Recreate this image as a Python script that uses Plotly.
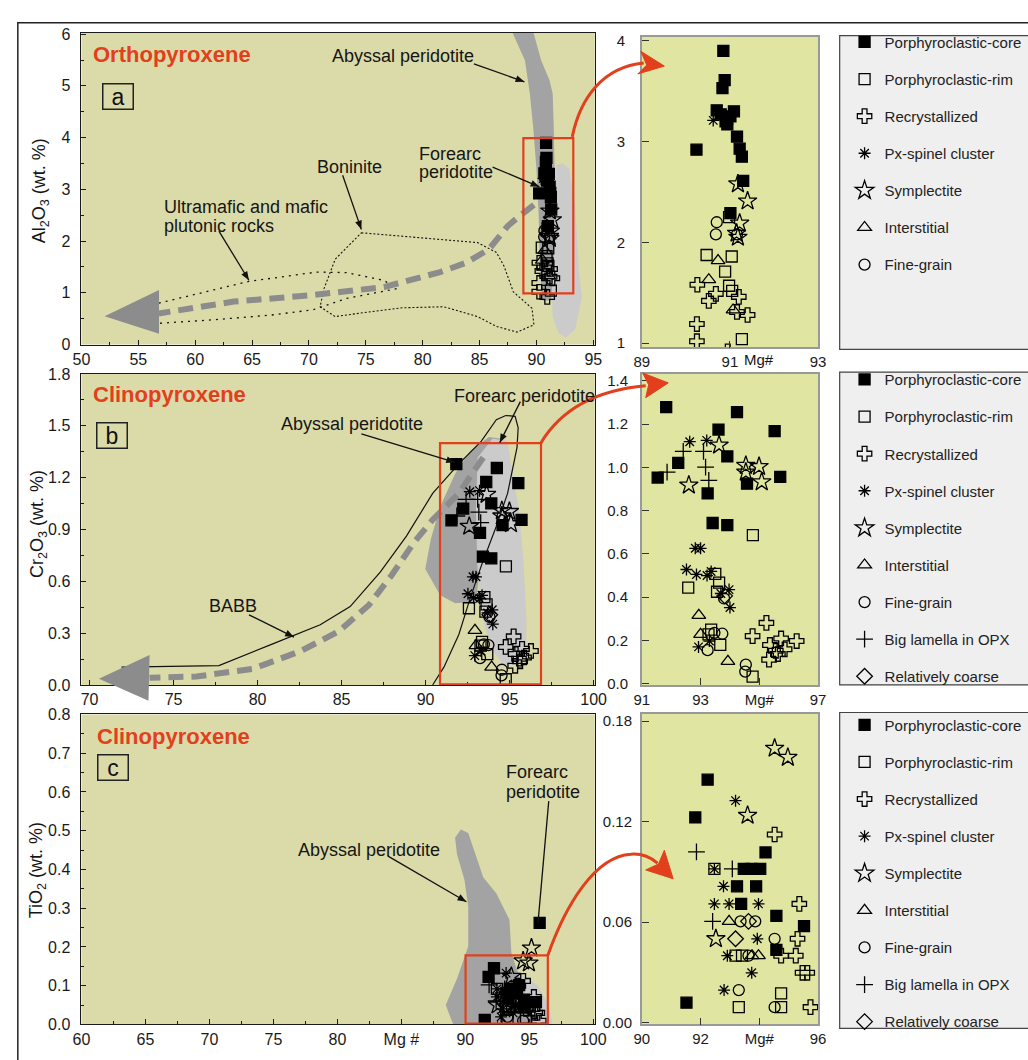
import math
import plotly.graph_objects as go

W, H = 1028, 1060
FONT = "Liberation Sans, Arial, Helvetica, sans-serif"
RED = "#e2401c"
DARK = "#a3a3a3"
LIGHT = "#cbcbcb"
MAIN_BG = "#dbdba9"
MID_BG = "#e0e5a1"
TREND = "#8c8c8c"

# ---------------- data: panel a, orthopyroxene (Mg# vs Al2O3 wt.%) ----------------
opx_core_mg = [90.85, 90.88, 90.83, 90.70, 91.09, 90.79, 91.01, 90.90, 90.94, 90.24, 91.16, 91.22, 91.27, 91.30, 91.01]
opx_core_al = [3.90, 3.61, 3.53, 3.31, 3.30, 3.27, 3.25, 3.20, 3.17, 2.92, 3.05, 2.93, 2.85, 2.61, 2.29]
opx_rim_mg = [90.47, 91.04, 90.89, 90.98, 91.05, 91.27, 90.98]
opx_rim_al = [1.875, 1.86, 1.71, 1.57, 1.52, 1.04, 2.25]
opx_recr_mg = [90.26, 90.68, 90.52, 91.20, 91.16, 91.40, 90.25, 90.25, 90.95]
opx_recr_al = [1.58, 1.49, 1.42, 1.46, 1.31, 1.28, 1.19, 1.02, 0.92]
opx_pxsp_mg = [90.62, 90.98]
opx_pxsp_al = [3.21, 3.21]
opx_symp_mg = [91.18, 91.40, 91.22, 91.15, 91.18]
opx_symp_al = [2.58, 2.41, 2.19, 2.09, 2.05]
opx_inter_mg = [90.73, 90.52, 91.07]
opx_inter_al = [1.82, 1.63, 1.33]
opx_fine_mg = [90.70, 90.68, 91.16]
opx_fine_al = [2.20, 2.08, 2.08]

# ---------------- data: panel b, clinopyroxene (Mg# vs Cr2O3 wt.%) ----------------
cr_core_mg = [91.83, 94.24, 93.61, 95.52, 93.91, 92.24, 91.54, 94.58, 95.71, 93.24, 93.41, 93.91]
cr_core_v = [1.279, 1.256, 1.175, 1.168, 1.051, 1.021, 0.953, 0.925, 0.956, 0.880, 0.743, 0.733]
cr_rim_mg = [94.78, 92.58, 93.50, 93.63, 93.56, 93.36, 93.67, 94.77, 93.27]
cr_rim_v = [0.687, 0.444, 0.508, 0.467, 0.425, 0.250, 0.179, 0.033, 0.228]
cr_recr_mg = [95.24, 94.77, 95.36, 95.74, 96.27, 95.56, 95.86, 95.33, 95.63]
cr_recr_v = [0.281, 0.220, 0.179, 0.209, 0.197, 0.152, 0.159, 0.111, 0.137]
cr_pxsp_mg = [92.63, 93.21, 92.82, 93.00, 92.52, 92.86, 93.22, 93.36, 93.69, 93.97, 94.00, 92.93, 93.30]
cr_pxsp_v = [1.119, 1.125, 0.626, 0.626, 0.528, 0.505, 0.500, 0.519, 0.417, 0.435, 0.352, 0.170, 0.197]
cr_symp_mg = [93.63, 92.60, 94.54, 94.99, 95.08, 94.54]
cr_symp_v = [1.103, 0.918, 1.009, 1.004, 0.933, 0.978]
cr_inter_mg = [92.94, 93.00, 93.93]
cr_inter_v = [0.316, 0.228, 0.103]
cr_fine_mg = [93.80, 93.24, 93.74, 94.54, 94.52, 93.47]
cr_fine_v = [0.394, 0.155, 0.231, 0.088, 0.056, 0.235]
cr_lam_mg = [91.86, 92.41, 93.10, 93.17, 93.28]
cr_lam_v = [0.978, 1.074, 1.074, 1.001, 0.940]
cr_coarse_mg = [93.82]
cr_coarse_v = [0.406]

# ---------------- data: panel c, clinopyroxene (Mg# vs TiO2 wt.%) ----------------
ti_core_mg = [92.24, 91.82, 94.21, 93.47, 93.73, 94.03, 93.24, 93.89, 93.38, 94.58, 95.52, 94.58, 91.52, 95.81]
ti_core_v = [0.145, 0.1225, 0.1016, 0.0918, 0.0918, 0.0918, 0.0814, 0.0814, 0.0709, 0.0638, 0.0576, 0.0435, 0.012, 0.262]
ti_rim_mg = [92.47, 93.19, 93.41, 94.74, 93.30, 94.74]
ti_rim_v = [0.0918, 0.040, 0.040, 0.0175, 0.0093, 0.0093]
ti_recr_mg = [94.52, 95.36, 95.30, 94.74, 95.24, 95.47, 95.63, 95.74]
ti_recr_v = [0.1123, 0.0709, 0.0501, 0.040, 0.040, 0.0298, 0.0298, 0.0093]
ti_pxsp_mg = [93.19, 92.47, 92.78, 92.47, 92.97, 93.97, 93.93, 92.91, 93.74, 92.80]
ti_pxsp_v = [0.1325, 0.0918, 0.0814, 0.0709, 0.0709, 0.0709, 0.0501, 0.040, 0.0298, 0.0195]
ti_symp_mg = [94.52, 94.97, 93.60, 92.52, 95.17]
ti_symp_v = [0.1637, 0.1583, 0.1237, 0.0501, 0.197]
ti_inter_mg = [92.97, 93.97, 93.75]
ti_inter_v = [0.0605, 0.040, 0.040]
ti_fine_mg = [93.36, 93.86, 94.52, 93.63, 93.30, 94.52]
ti_fine_v = [0.0605, 0.0605, 0.0501, 0.040, 0.0195, 0.0093]
ti_lam_mg = [91.86, 93.08, 92.41]
ti_lam_v = [0.102, 0.0918, 0.0605]
ti_coarse_mg = [93.63, 93.19]
ti_coarse_v = [0.0605, 0.0501]

# ---------------- axis tick labels ----------------
a_main_ticks = [50, 55, 60, 65, 70, 75, 80, 85, 90, 95]
a_main_labels = ["50", "55", "60", "65", "70", "75", "80", "85", "90", "95"]
a_mid_ticks = [89, 91, 93]
a_mid_labels = ["89", "91", "93"]
b_main_ticks = [70, 75, 80, 85, 90, 95, 100]
b_main_labels = ["70", "75", "80", "85", "90", "95", "100"]
b_mid_ticks = [91, 93, 95, 97]
b_mid_labels = ["91", "93", "Mg#", "97"]
c_main_ticks = [60, 65, 70, 75, 80, 85, 90, 95, 100]
c_main_labels = ["60", "65", "70", "75", "80", "Mg #", "90", "95", "100"]
c_mid_ticks = [90, 92, 94, 96]
c_mid_labels = ["90", "92", "Mg#", "96"]

# ---------------- reference fields / trends (outlines) ----------------
opx_abyssal_mg = [87.75, 89.65, 90.42, 91.15, 91.43, 91.52, 91.58, 91.6, 91.5, 91.3, 90.5, 90.3, 90.2, 90.0, 89.71, 89.42, 88.99]
opx_abyssal_al = [6.1, 6.1, 5.49, 5.11, 4.85, 4.21, 3.59, 2.5, 1.5, 0.85, 0.85, 1.5, 2.5, 3.4, 4.21, 4.85, 5.49]
opx_forearc_mg = [91.75, 92.3, 92.89, 93.41, 93.73, 94.0, 93.41, 92.58, 91.92, 91.42, 91.3, 91.5]
opx_forearc_al = [3.46, 3.5, 3.40, 2.70, 1.43, 0.92, 0.29, 0.13, 0.23, 0.54, 1.5, 2.8]
bon_mg = [74.61, 84.83, 86.48, 87.14, 87.96, 89.61, 89.78, 88.29, 86.48, 84.83, 81.86, 78.24, 75.27, 72.31, 70.98, 71.32, 72.31]
bon_al = [2.16, 1.97, 1.78, 1.52, 1.02, 0.70, 0.38, 0.24, 0.35, 0.54, 0.73, 0.71, 0.63, 0.54, 0.73, 1.08, 1.65]
umr_mg = [56.8, 64.71, 70.65, 73.29, 76.59, 77.74, 73.29, 70.33, 66.70, 61.76, 56.8]
umr_al = [0.80, 1.22, 1.40, 1.39, 1.24, 1.08, 0.89, 0.67, 0.57, 0.48, 0.41]
trend_a_mg = [89.78, 88.6, 87.47, 85.82, 83.8, 81.53, 76.59, 70.0, 63.4, 56.8]
trend_a_al = [2.70, 2.50, 2.29, 1.84, 1.58, 1.40, 1.11, 0.95, 0.83, 0.60]

cr_abyssal_mg = [89.98, 90.31, 90.87, 91.76, 92.65, 93.77, 94.44, 94.21, 93.32, 92.99, 91.76, 90.87]
cr_abyssal_v = [0.672, 0.843, 1.033, 1.222, 1.355, 1.435, 1.427, 1.109, 0.729, 0.482, 0.473, 0.520]
cr_forearc_mg = [93.1, 93.99, 94.88, 95.11, 95.56, 95.82, 96.0, 96.0, 95.56, 94.66, 93.99, 93.43, 93.1, 92.99]
cr_forearc_v = [1.317, 1.427, 1.412, 1.260, 1.014, 0.729, 0.387, 0.198, 0.121, 0.112, 0.198, 0.368, 0.634, 1.014]
babb_mg = [71.9, 77.70, 80.83, 83.73, 85.51, 87.30, 88.86, 90.42, 91.98, 93.32, 94.21, 94.77, 95.33, 95.51, 95.44, 94.88, 94.21, 93.32, 92.65, 91.98, 91.09, 90.42]
babb_v = [0.103, 0.112, 0.235, 0.349, 0.454, 0.653, 0.862, 1.109, 1.280, 1.412, 1.536, 1.560, 1.555, 1.488, 1.374, 1.109, 0.919, 0.691, 0.501, 0.292, 0.103, 0.0]
trend_b_mg = [93.43, 91.98, 90.42, 89.30, 87.97, 86.63, 84.84, 82.61, 79.71, 76.36, 73.57]
trend_b_v = [1.317, 1.109, 0.957, 0.824, 0.634, 0.463, 0.311, 0.198, 0.093, 0.049, 0.042]

ti_abyssal_mg = [89.65, 90.23, 91.40, 92.43, 93.45, 93.60, 94.19, 94.77, 95.36, 89.20, 88.91, 88.47, 89.35, 90.23, 90.23, 89.94, 89.35, 89.20]
ti_abyssal_v = [0.503, 0.494, 0.380, 0.338, 0.270, 0.185, 0.126, 0.067, -0.01, -0.01, 0.012, 0.05, 0.118, 0.202, 0.304, 0.372, 0.439, 0.482]
ti_forearc_mg = [92.43, 94.19, 95.65, 96.53, 96.88, 93.02]
ti_forearc_v = [0.143, 0.135, 0.101, 0.050, -0.01, -0.01]

# ---------------- styles ----------------
STYLE = {
    "core": ("Porphyroclastic-core", "square", 11),
    "rim": ("Porphyroclastic-rim", "square-open", 11),
    "recr": ("Recrystallized", "cross-open", 12),
    "pxsp": ("Px-spinel cluster", "asterisk-open", 10),
    "symp": ("Symplectite", "star-open", 14),
    "inter": ("Interstitial", "triangle-up-open", 12),
    "fine": ("Fine-grain", "circle-open", 11),
    "lam": ("Big lamella in OPX", "cross-thin-open", 12),
    "coarse": ("Relatively coarse", "diamond-open", 12),
}

PANELS = [
    dict(key="a", main=("x", "y"), mid=("x2", "y2"), legend="legend", data=[
        ("core", opx_core_mg, opx_core_al), ("rim", opx_rim_mg, opx_rim_al),
        ("recr", opx_recr_mg, opx_recr_al), ("pxsp", opx_pxsp_mg, opx_pxsp_al),
        ("symp", opx_symp_mg, opx_symp_al), ("inter", opx_inter_mg, opx_inter_al),
        ("fine", opx_fine_mg, opx_fine_al)]),
    dict(key="b", main=("x3", "y3"), mid=("x4", "y4"), legend="legend2", data=[
        ("core", cr_core_mg, cr_core_v), ("rim", cr_rim_mg, cr_rim_v),
        ("recr", cr_recr_mg, cr_recr_v), ("pxsp", cr_pxsp_mg, cr_pxsp_v),
        ("symp", cr_symp_mg, cr_symp_v), ("inter", cr_inter_mg, cr_inter_v),
        ("fine", cr_fine_mg, cr_fine_v), ("lam", cr_lam_mg, cr_lam_v),
        ("coarse", cr_coarse_mg, cr_coarse_v)]),
    dict(key="c", main=("x5", "y5"), mid=("x6", "y6"), legend="legend3", data=[
        ("core", ti_core_mg, ti_core_v), ("rim", ti_rim_mg, ti_rim_v),
        ("recr", ti_recr_mg, ti_recr_v), ("pxsp", ti_pxsp_mg, ti_pxsp_v),
        ("symp", ti_symp_mg, ti_symp_v), ("inter", ti_inter_mg, ti_inter_v),
        ("fine", ti_fine_mg, ti_fine_v), ("lam", ti_lam_mg, ti_lam_v),
        ("coarse", ti_coarse_mg, ti_coarse_v)]),
]


def PX(x):
    return x / W


def PY(y):
    return 1 - y / H


fig = go.Figure()
for p in PANELS:
    for cat, xs, ys in p["data"]:
        name, sym, size = STYLE[cat]
        mk = dict(symbol=sym, size=size, color="black", line=dict(color="black", width=1.3))
        fig.add_trace(go.Scatter(x=xs, y=ys, mode="markers", xaxis=p["main"][0], yaxis=p["main"][1],
                                 marker=mk, showlegend=False, legendgroup=p["key"] + cat,
                                 name=name, hoverinfo="skip", cliponaxis=True))
        fig.add_trace(go.Scatter(x=xs, y=ys, mode="markers", xaxis=p["mid"][0], yaxis=p["mid"][1],
                                 marker=mk, showlegend=True, legend=p["legend"],
                                 legendgroup=p["key"] + cat, name=name, hoverinfo="skip", cliponaxis=True))


# ---------------- shapes ----------------
def dpath(xs, ys, close=True):
    s = "M " + " L ".join(f"{x},{y}" for x, y in zip(xs, ys))
    return s + (" Z" if close else "")


def ppath(pts, close=True):
    s = "M " + " L ".join(f"{PX(x):.5f},{PY(y):.5f}" for x, y in pts)
    return s + (" Z" if close else "")


def pcurve(pts):
    f = lambda q: f"{PX(q[0]):.5f},{PY(q[1]):.5f}"
    s = f"M {f(pts[0])}"
    for i in range(1, len(pts), 3):
        s += f" C {f(pts[i])} {f(pts[i+1])} {f(pts[i+2])}"
    return s


shapes = []

# zoom-panel backgrounds
for xr, yr in (("x2", "y2"), ("x4", "y4"), ("x6", "y6")):
    shapes.append(dict(type="rect", xref=f"{xr} domain", yref=f"{yr} domain", x0=0, x1=1, y0=0, y1=1,
                       fillcolor=MID_BG, line=dict(width=0), layer="below"))


def field(xr, yr, xs, ys, color):
    shapes.append(dict(type="path", xref=xr, yref=yr, path=dpath(xs, ys), fillcolor=color,
                       line=dict(width=0), layer="below"))


# panel a
field("x", "y", opx_forearc_mg, opx_forearc_al, LIGHT)
field("x", "y", opx_abyssal_mg, opx_abyssal_al, DARK)
shapes.append(dict(type="path", xref="x", yref="y", path=dpath(bon_mg, bon_al), layer="below",
                   line=dict(color="#111", width=1.1, dash="2px,2px")))
shapes.append(dict(type="path", xref="x", yref="y", path=dpath(umr_mg, umr_al, close=False), layer="below",
                   line=dict(color="#111", width=1.3, dash="2px,5px")))
shapes.append(dict(type="path", xref="x", yref="y", path=dpath(trend_a_mg, trend_a_al, close=False),
                   layer="below", line=dict(color=TREND, width=6, dash="15px,8px")))
# panel b
field("x3", "y3", cr_abyssal_mg, cr_abyssal_v, DARK)
field("x3", "y3", cr_forearc_mg, cr_forearc_v, LIGHT)
shapes.append(dict(type="path", xref="x3", yref="y3", path=dpath(trend_b_mg, trend_b_v, close=False),
                   layer="below", line=dict(color=TREND, width=6, dash="15px,8px")))
shapes.append(dict(type="path", xref="x3", yref="y3", path=dpath(babb_mg, babb_v, close=False),
                   layer="below", line=dict(color="#111", width=1.2)))
# panel c
field("x5", "y5", ti_forearc_mg, ti_forearc_v, LIGHT)
field("x5", "y5", ti_abyssal_mg, ti_abyssal_v, DARK)

# red zoom rectangles
for xr, yr, x0, x1, y0, y1 in [("x", "y", 88.85, 93.24, 0.99, 3.99),
                               ("x3", "y3", 90.86, 96.87, 0.003, 1.40),
                               ("x5", "y5", 90.02, 96.45, 0.002, 0.178)]:
    shapes.append(dict(type="rect", xref=xr, yref=yr, x0=x0, x1=x1, y0=y0, y1=y1,
                       line=dict(color=RED, width=2.2), layer="above"))

# gray trend arrowheads (paper)
for pts in [[(97.6, 313.3), (153.1, 286.5), (153.1, 331)],
            [(91.8, 681.7), (143.5, 657.5), (142.4, 704)]]:
    shapes.append(dict(type="path", xref="paper", yref="paper", path=ppath(pts),
                       fillcolor=TREND, line=dict(width=0), layer="above"))

# red curved arrows (paper)
for curve, head in [
    ([(575, 131), (583, 92), (606, 60), (648, 56)], [(669, 59), (645, 44), (651, 58), (642, 67)]),
    ([(543, 442), (560, 414), (592, 389), (650, 384)], [(673, 381), (647, 371), (653, 383), (650, 396)]),
    ([(550, 963), (568, 912), (598, 862), (635, 860), (648, 859), (656, 864), (662, 869)],
     [(678, 885), (669, 856), (663, 870), (650, 876)]),
]:
    shapes.append(dict(type="path", xref="paper", yref="paper", path=pcurve(curve),
                       line=dict(color=RED, width=3), layer="above"))
    shapes.append(dict(type="path", xref="paper", yref="paper", path=ppath(head),
                       fillcolor=RED, line=dict(color=RED, width=1), layer="above"))


# black pointer arrows (paper, pixel positions)
def arrow(t, h, head=True):
    shapes.append(dict(type="line", xref="paper", yref="paper", x0=PX(t[0]), y0=PY(t[1]),
                       x1=PX(h[0]), y1=PY(h[1]), line=dict(color="#111", width=1.3), layer="above"))
    if head:
        dx, dy = h[0] - t[0], h[1] - t[1]
        n = math.hypot(dx, dy)
        ux, uy = dx / n, dy / n
        bx, by = h[0] - ux * 9, h[1] - uy * 9
        pts = [h, (bx - uy * 3.5, by + ux * 3.5), (bx + uy * 3.5, by - ux * 3.5)]
        shapes.append(dict(type="path", xref="paper", yref="paper", path=ppath(pts),
                           fillcolor="#111", line=dict(width=0), layer="above"))


arrow((474.6, 56.7), (526.2, 75))
arrow((493.7, 161.7), (541.5, 181.7))
arrow((340.6, 170), (359.7, 225))
arrow((214.3, 226.7), (244.9, 276.7))
arrow((359.7, 432.7), (455.4, 461.7))
arrow((522, 400), (501, 441.7))
arrow((245, 616.7), (290.9, 639.3))
arrow((551, 806), (540, 930), head=False)
arrow((386.5, 861.7), (466.9, 908.3))

# legend boxes
for y0, y1 in [(28, 347), (370, 688), (716, 1037)]:
    shapes.append(dict(type="rect", xref="paper", yref="paper", x0=PX(848), x1=PX(1045),
                       y0=PY(y1), y1=PY(y0), fillcolor="#efefef", line=dict(color="#444", width=1.2),
                       layer="below"))
# outer frame
shapes.append(dict(type="rect", xref="paper", yref="paper", x0=PX(9), x1=PX(1045), y0=PY(1075), y1=PY(15),
                   line=dict(color="#222", width=1.5), layer="above"))

# ---------------- annotations ----------------
ann = []


def txt(s, x, y, size=18, color="#151515", bold=False, xanchor="left", angle=0):
    ann.append(dict(text=f"<b>{s}</b>" if bold else s, x=PX(x), y=PY(y), xref="paper", yref="paper",
                    xanchor=xanchor, yanchor="middle", showarrow=False, textangle=angle,
                    font=dict(family=FONT, size=size, color=color)))


def box(s, x, y):
    ann.append(dict(text=s, x=PX(x), y=PY(y), xref="paper", yref="paper", xanchor="center",
                    yanchor="middle", showarrow=False, width=29, height=24, borderpad=0,
                    bordercolor="#222", borderwidth=1.5, font=dict(family=FONT, size=23, color="#111")))


# panel a
txt("Orthopyroxene", 84, 47, 22, RED, True)
box("a", 111, 89.5)
txt("Abyssal peridotite", 328, 49)
txt("Forearc", 417, 148)
txt("peridotite", 417, 167)
txt("Boninite", 312, 162)
txt("Ultramafic and mafic", 156, 202)
txt("plutonic rocks", 156, 222)
# panel b
txt("Clinopyroxene", 84, 393, 22, RED, True)
box("b", 105.5, 434.5)
txt("Abyssal peridotite", 275.5, 422.7)
txt("Forearc peridotite", 452, 394.3)
txt("BABB", 202, 608)
# panel c
txt("Clinopyroxene", 88, 740.7, 22, RED, True)
box("c", 106.5, 771.5)
txt("Forearc", 505, 776.7)
txt("peridotite", 505, 796.7)
txt("Abyssal peridotite", 293, 855.3)
# axis titles
txt("Al<sub>2</sub>O<sub>3</sub> (wt. %)", 32, 186, 18, xanchor="center", angle=-90)
txt("Cr<sub>2</sub>O<sub>3</sub> (wt. %)", 30, 524, 18, xanchor="center", angle=-90)
txt("TiO<sub>2</sub> (wt. %)", 30, 876, 18, xanchor="center", angle=-90)
txt("Mg#", 766, 357, 15, xanchor="center")

# ---------------- axes ----------------
TICKFONT = dict(family=FONT, size=16, color="#1a1a1a")
MIDFONT = dict(family=FONT, size=15, color="#1a1a1a")


def main_x(dom, rng, anchor, tickvals, ticktext, minor):
    return dict(domain=dom, range=rng, anchor=anchor, showline=True, linecolor="#1a1a1a", linewidth=1,
                mirror=True, ticks="inside", ticklen=5, tickcolor="#1a1a1a", showgrid=False, zeroline=False,
                tickfont=TICKFONT, tickmode="array", tickvals=tickvals, ticktext=ticktext, fixedrange=True,
                minor=dict(ticks="inside", ticklen=3, tick0=0, dtick=minor, tickcolor="#1a1a1a", showgrid=False))


def main_y(dom, rng, anchor, dtick, fmt, minor):
    return dict(domain=dom, range=rng, anchor=anchor, showline=True, linecolor="#1a1a1a", linewidth=1,
                mirror=True, ticks="inside", ticklen=5, tickcolor="#1a1a1a", showgrid=False, zeroline=False,
                tickfont=TICKFONT, tick0=0, dtick=dtick, tickformat=fmt, ticklabelstandoff=7, fixedrange=True,
                minor=dict(ticks="inside", ticklen=3, tick0=0, dtick=minor, tickcolor="#1a1a1a", showgrid=False))


def mid_x(dom, rng, anchor, tickvals, ticktext):
    return dict(domain=dom, range=rng, anchor=anchor, showline=True, linecolor="#999999", linewidth=1.5,
                mirror=True, ticks="inside", ticklen=7, tickcolor="#333", showgrid=False, zeroline=False,
                tickfont=MIDFONT, tickmode="array", tickvals=tickvals, ticktext=ticktext, fixedrange=True)


def mid_y(dom, rng, anchor, dtick, fmt, standoff):
    return dict(domain=dom, range=rng, anchor=anchor, showline=True, linecolor="#999999", linewidth=1.5,
                mirror=True, ticks="inside", ticklen=7, tickcolor="#333", showgrid=False, zeroline=False,
                tickfont=MIDFONT, tick0=0, dtick=dtick, tickformat=fmt, ticklabelstandoff=standoff,
                fixedrange=True)


XM = [PX(74), PX(598)]
XD = [PX(646), PX(826)]
LEG = dict(xanchor="left", yanchor="top", bgcolor="rgba(0,0,0,0)", borderwidth=0,
           font=dict(family=FONT, size=15, color="#222"), tracegroupgap=14.6, itemsizing="trace")

fig.update_layout(
    width=W, height=H, autosize=False, margin=dict(l=0, r=0, t=0, b=0),
    paper_bgcolor="white", plot_bgcolor=MAIN_BG, font=dict(family=FONT, color="#151515"),
    xaxis=main_x(XM, [50, 95.13], "y", a_main_ticks, a_main_labels, 2.5),
    yaxis=main_y([PY(342), PY(25)], [0, 6.03], "x", 1, "d", 0.5),
    xaxis2=mid_x(XD, [89, 93], "y2", a_mid_ticks, a_mid_labels),
    yaxis2=mid_y([PY(345), PY(29)], [0.958, 4.042], "x2", 1, "d", 12),
    xaxis3=main_x(XM, [69.52, 100.07], "y3", b_main_ticks, b_main_labels, 2.5),
    yaxis3=main_y([PY(688), PY(372)], [0, 1.8], "x3", 0.3, ".1f", 0.15),
    xaxis4=mid_x(XD, [91, 97], "y4", b_mid_ticks, b_mid_labels),
    yaxis4=mid_y([PY(688), PY(372)], [-0.006, 1.432], "x4", 0.2, ".1f", 9),
    xaxis5=main_x(XM, [60, 100.12], "y5", c_main_ticks, c_main_labels, 2.5),
    yaxis5=main_y([PY(1033), PY(718)], [0, 0.8], "x5", 0.1, ".1f", 0.05),
    xaxis6=mid_x(XD, [90, 96], "y6", c_mid_ticks, c_mid_labels),
    yaxis6=mid_y([PY(1033), PY(717)], [-0.001, 0.1845], "x6", 0.06, ".2f", 5),
    shapes=shapes, annotations=ann,
    legend=dict(LEG, x=PX(853), y=PY(18)),
    legend2=dict(LEG, x=PX(853), y=PY(361)),
    legend3=dict(LEG, x=PX(853), y=PY(712)),
)
fig.write_html("out.html")
